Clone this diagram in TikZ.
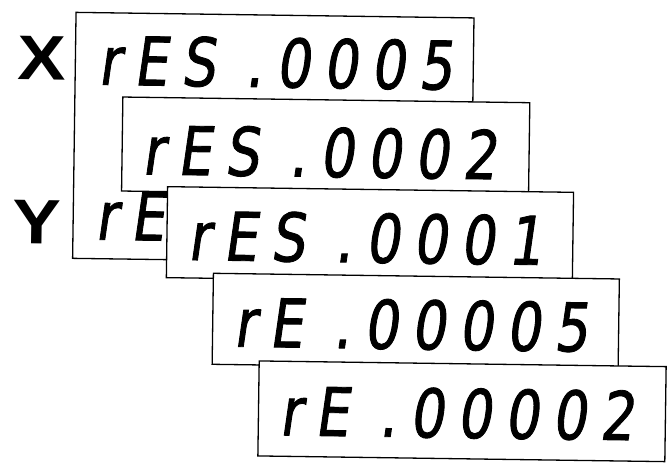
\documentclass[tikz,border=0pt]{standalone}
\usepackage{fontspec}
\newfontfamily\segfont[FakeSlant=0.13,FakeStretch=0.8,FakeBold=1.3,LetterSpace=20]{DejaVu Sans}
\newfontfamily\lblfont[FakeStretch=1.15]{Liberation Sans}
\begin{document}
\begin{tikzpicture}[x=1pt,y=-1pt,
  dispbox/.style={draw,fill=white,line width=1.3pt,anchor=north west,inner sep=0pt,outer sep=0pt},
  readout/.style={anchor=base west,inner sep=0pt,font=\segfont\fontsize{67}{67}\selectfont},
  axislbl/.style={anchor=base,inner sep=0pt,font=\lblfont\bfseries\fontsize{63}{63}\selectfont}]
\useasboundingbox (0,0) rectangle (670,465);
\begin{scope}[rotate around={-0.8:(335,232)},transform shape]
% X / Y labels
\node[axislbl] (lx) at (40,84) {X};
\node[axislbl] (ly) at (37,248) {Y};
% panel with X and Y rows
\node[dispbox,minimum width=398pt,minimum height=246pt] (p1) at (73,16) {};
\node[readout] (t1) at (96,88) {rES .0005};
\node[readout] (ty) at (95,243) {rE};
% stacked displays
\node[dispbox,minimum width=407pt,minimum height=94pt] (b2) at (121,100) {};
\node[readout] (t2) at (141,177) {rES .0002};
\node[dispbox,minimum width=406pt,minimum height=91pt] (b3) at (167,189) {};
\node[readout] (t3) at (188,262) {rES .0001};
\node[dispbox,minimum width=406pt,minimum height=91pt] (b4) at (214,275) {};
\node[readout] (t4) at (235,348) {rE .00005};
\node[dispbox,minimum width=407pt,minimum height=95pt] (b5) at (261,362) {};
\node[readout] (t5) at (282,436) {rE .00002};
\end{scope}
\end{tikzpicture}
\end{document}
